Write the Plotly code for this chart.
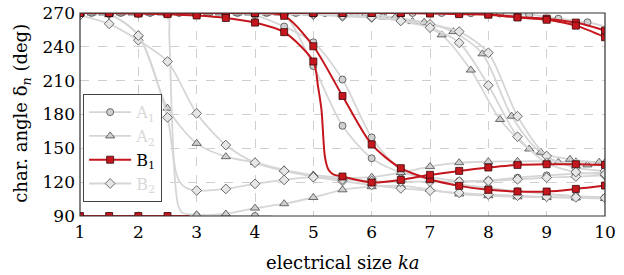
import plotly.graph_objects as go

# ---------------- data ----------------
ka_grid = [1.0, 1.5, 2.0, 2.5, 3.0, 3.5, 4.0, 4.5, 5.0, 5.5, 6.0, 6.5, 7.0, 7.5, 8.0, 8.5, 9.0, 9.5, 10.0]
ka_off2 = [1.0, 1.2, 1.7, 2.2, 2.7, 3.2, 3.7, 4.2, 4.7, 5.2, 5.7, 6.2, 6.7, 7.2, 7.7, 8.2, 8.7, 9.2, 9.7, 10.0]
ka_off4 = [1.0, 1.4, 1.9, 2.4, 2.9, 3.4, 3.9, 4.4, 4.9, 5.4, 5.9, 6.4, 6.9, 7.4, 7.9, 8.4, 8.9, 9.4, 9.9, 10.0]

# A1 (circles)
A1t_x = ka_off2
A1t_y = [270, 270, 270, 270, 270, 270, 270, 270, 270, 270, 270, 270, 270, 270, 269.8, 269.5, 268.5, 265, 261.8, 258]
A1t_mk = ka_off2[1:-1]
A1a_x = ka_grid
A1a_y = [270, 270, 270, 270, 270, 270, 268, 258, 244, 211, 159.7, 130.8, 122, 118, 115, 112, 109.5, 107.5, 106.4]
A1a_mk = ka_grid
A1b_x = ka_grid
A1b_y = [270, 270, 270, 270, 270, 270, 270, 268, 223, 170, 141.2, 128.5, 124.5, 121, 121.5, 124, 126, 127.5, 128.5]
A1b_mk = ka_grid
A1c_x = [1.0, 1.5, 2.0, 2.5, 3.0, 3.5, 4.0, 4.3]
A1c_y = [90, 90, 90, 90, 90, 90, 90, 90]
A1c_mk = [1.0, 1.5, 2.0, 2.5, 3.0, 3.5, 4.0]

# A2 (triangles)
A2a_x = ka_grid
A2a_y = [270, 268.5, 250.6, 185.6, 154.4, 142.6, 137.3, 131, 126.4, 124, 124.5, 128.5, 133.8, 137.3, 138.2, 138.5, 138.5, 138, 137.5]
A2a_mk = ka_grid
A2b_x = [1.0, 1.5, 2.0, 2.5, 2.53, 2.57, 2.62, 2.68, 2.75, 3.0, 3.5, 4.0, 4.5, 5.0, 5.5, 6.0, 6.5, 7.0, 7.5, 8.0, 8.5, 9.0, 9.5, 10.0]
A2b_y = [270, 270, 270, 270, 250, 185, 128, 100, 93, 91.1, 91.8, 97, 100.9, 106.4, 113.2, 116, 116.7, 113.5, 109.5, 108, 107, 106.5, 106, 105.5]
A2b_mk = ka_grid
T1_x = ka_off2
T1_y = [270, 270, 270, 270, 270, 270, 270, 270, 270, 270, 269, 266.5, 262.4, 250.6, 219.4, 175.6, 149.4, 137.7, 135.3, 135]
T1_mk = ka_off2[1:-1]
T2_x = ka_off4
T2_y = [270, 270, 270, 270, 270, 270, 270, 270, 270, 270, 269, 266, 261.8, 253.5, 233.8, 178.5, 146.5, 140.3, 137.7, 137.5]
T2_mk = ka_off4[1:-1]

# B2 (diamonds)
B2a_x = ka_grid
B2a_y = [268, 260.4, 245.8, 227, 181, 152.9, 137.3, 130, 125, 121, 117.5, 114.5, 112.5, 110.5, 109, 108, 107, 106.5, 106]
B2a_mk = ka_grid
B2b_x = [1.0, 1.5, 2.0, 2.5, 2.58, 2.64, 2.7, 2.8, 3.0, 3.5, 4.0, 4.5, 5.0, 5.5, 6.0, 6.5, 7.0, 7.5, 8.0, 8.5, 9.0, 9.5, 10.0]
B2b_y = [270, 269, 250, 177.4, 150, 130, 121, 115.5, 112.6, 114, 118.5, 122, 124.4, 122.5, 121, 120.5, 120.5, 120.5, 121, 122.5, 124, 125, 126]
B2b_mk = ka_grid
D1_x = ka_grid
D1_y = [270, 270, 270, 270, 270, 270, 269.5, 269, 268.5, 267, 266, 263.5, 260, 253.5, 234.7, 178.5, 143.2, 133, 130]
D1_mk = ka_grid
D2_x = ka_grid
D2_y = [270, 270, 270, 270, 270, 270, 270, 270, 269.5, 268, 266.5, 263, 257, 243.6, 205.9, 160.3, 137, 129, 127]
D2_mk = ka_grid

# B1 (red squares)
R1_x = [1.0, 1.5, 2.0, 2.5, 2.88]
R1_y = [90, 90, 90, 90, 90]
R1_mk = [1.0, 1.5, 2.0, 2.5]
R2_x = ka_grid
R2_y = [270, 270, 270, 270, 270, 270, 270, 270, 270, 270, 270, 270, 270, 269.8, 269, 266.5, 265, 261.5, 254.4]
R2_mk = ka_grid
R3_x = ka_grid
R3_y = [270, 270, 270, 270, 270, 270, 270, 270, 270, 270, 270, 270, 269.5, 269, 268.5, 266, 264, 258.8, 248.5]
R3_mk = ka_grid
R4_x = ka_grid
R4_y = [270, 270, 270, 270, 270, 270, 270, 267.5, 240.5, 196.4, 153.5, 132.4, 122.6, 116.7, 113.2, 111.7, 111.7, 114, 117]
R4_mk = ka_grid
R5_x = [1.0, 1.5, 2.0, 2.5, 3.0, 3.5, 4.0, 4.5, 5.0, 5.08, 5.14, 5.2, 5.26, 5.34, 5.5, 6.0, 6.5, 7.0, 7.5, 8.0, 8.5, 9.0, 9.5, 10.0]
R5_y = [270, 270, 269.5, 269, 267.8, 265.6, 261.5, 253, 227, 205, 184, 142, 131, 127, 125, 119.7, 122, 126.5, 130, 133, 135.3, 135.9, 135.9, 135.3]
R5_mk = ka_grid

x_ticks = [1, 2, 3, 4, 5, 6, 7, 8, 9, 10]
y_ticks = [90, 120, 150, 180, 210, 240, 270]
x_title = "electrical size <i>ka</i>"
y_title = "char. angle δ<sub><i>n</i></sub> (deg)"

# ---------------- styling ----------------
GRAY_LINE = "#d6d6d6"
RED = "#c4161c"
FONT = "DejaVu Serif"

styles = {
    "A1": dict(symbol="circle", size=7, color="#d0d0d0", lc=GRAY_LINE, lw=1.8),
    "A2": dict(symbol="triangle-up", size=8, color="#d0d0d0", lc=GRAY_LINE, lw=1.8),
    "B2": dict(symbol="diamond", size=7.5, color="#e6e6e6", lc=GRAY_LINE, lw=1.8),
    "B1": dict(symbol="square", size=7, color=RED, lc=RED, lw=2.0),
}

gray_curves = [
    ("A1", A1t_x, A1t_y, A1t_mk), ("A1", A1a_x, A1a_y, A1a_mk), ("A1", A1b_x, A1b_y, A1b_mk),
    ("A1", A1c_x, A1c_y, A1c_mk),
    ("A2", A2a_x, A2a_y, A2a_mk), ("A2", A2b_x, A2b_y, A2b_mk), ("A2", T1_x, T1_y, T1_mk),
    ("A2", T2_x, T2_y, T2_mk),
    ("B2", B2a_x, B2a_y, B2a_mk), ("B2", B2b_x, B2b_y, B2b_mk), ("B2", D1_x, D1_y, D1_mk),
    ("B2", D2_x, D2_y, D2_mk),
]
red_curves = [
    ("B1", R1_x, R1_y, R1_mk), ("B1", R2_x, R2_y, R2_mk), ("B1", R3_x, R3_y, R3_mk),
    ("B1", R4_x, R4_y, R4_mk), ("B1", R5_x, R5_y, R5_mk),
]

fig = go.Figure()


def add_curve(mode, xs, ys, mk):
    s = styles[mode]
    fig.add_trace(go.Scatter(x=xs, y=ys, mode="lines",
                             line=dict(color=s["lc"], width=s["lw"], shape="spline", smoothing=0.8),
                             showlegend=False, hoverinfo="skip"))
    mx = [x for x in xs if x in mk]
    my = [y for x, y in zip(xs, ys) if x in mk]
    fig.add_trace(go.Scatter(x=mx, y=my, mode="markers",
                             marker=dict(symbol=s["symbol"], size=s["size"], color=s["color"],
                                         line=dict(color="#4a4a4a" if mode != "B1" else "#3a0a0a", width=0.8)),
                             showlegend=False, hoverinfo="skip"))


for c in gray_curves:
    add_curve(*c)
for c in red_curves:
    add_curve(*c)

# legend entries
leg_names = {
    "A1": '<span style="color:#d9d9d9">A<sub>1</sub></span>',
    "A2": '<span style="color:#d9d9d9">A<sub>2</sub></span>',
    "B1": 'B<sub>1</sub>',
    "B2": '<span style="color:#d9d9d9">B<sub>2</sub></span>',
}
for key in ["A1", "A2", "B1", "B2"]:
    s = styles[key]
    fig.add_trace(go.Scatter(x=[None], y=[None], mode="lines+markers", name=leg_names[key],
                             line=dict(color=s["lc"], width=s["lw"]),
                             marker=dict(symbol=s["symbol"], size=s["size"], color=s["color"],
                                         line=dict(color="#4a4a4a" if key != "B1" else "#3a0a0a", width=0.8))))

fig.update_layout(
    width=624, height=275,
    margin=dict(l=80, r=19, t=13, b=59, autoexpand=False),
    paper_bgcolor="white", plot_bgcolor="white",
    font=dict(family=FONT, size=17, color="black"),
    showlegend=True,
    legend=dict(x=0.006, y=0.6, xanchor="left", yanchor="top",
                bgcolor="white", bordercolor="#444", borderwidth=1,
                font=dict(family=FONT, size=16, color="black"),
                tracegroupgap=0, itemwidth=42),
    xaxis=dict(range=[1, 10], tickvals=x_ticks, ticks="", showline=False, zeroline=False,
               showgrid=True, gridcolor="#cfcfcf", griddash="dash", gridwidth=0.8,
               tickfont=dict(family=FONT, size=17), ticklabelstandoff=4, automargin=False),
    yaxis=dict(range=[90, 270], tickvals=y_ticks, ticks="", showline=False, zeroline=False,
               showgrid=True, gridcolor="#cfcfcf", griddash="dash", gridwidth=0.8,
               tickfont=dict(family=FONT, size=17), ticklabelstandoff=4, automargin=False),
    annotations=[
        dict(text=x_title, xref="paper", yref="paper", x=0.5, y=-0.227, xanchor="center",
             yanchor="middle", showarrow=False, font=dict(family=FONT, size=18)),
        dict(text=y_title, xref="paper", yref="paper", x=-0.11, y=0.505, xanchor="center",
             yanchor="middle", textangle=-90, showarrow=False, font=dict(family=FONT, size=18)),
    ],
)
fig.add_shape(type="rect", xref="paper", yref="paper", x0=0, y0=0, x1=1, y1=1,
              line=dict(color="#333", width=1.2), layer="above")

fig.write_html("out.html")
